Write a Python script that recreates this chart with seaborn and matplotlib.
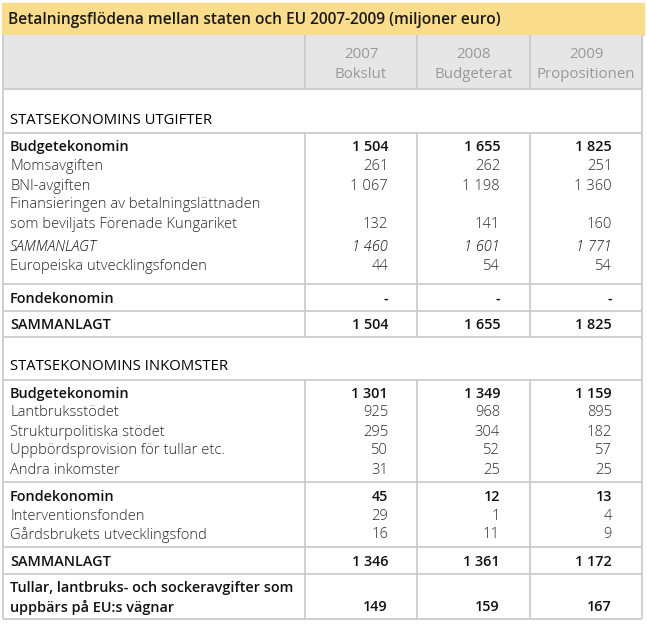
import matplotlib.pyplot as plt
import seaborn as sns
from matplotlib.patches import Rectangle

title = "Betalningsflödena mellan staten och EU 2007-2009 (miljoner euro)"
years = ["2007", "2008", "2009"]
year_notes = ["Bokslut", "Budgeterat", "Propositionen"]

labels = [
    "STATSEKONOMINS UTGIFTER",
    "Budgetekonomin",
    "Momsavgiften",
    "BNI-avgiften",
    "Finansieringen av betalningslättnaden",
    "som beviljats Förenade Kungariket",
    "SAMMANLAGT",
    "Europeiska utvecklingsfonden",
    "Fondekonomin",
    "SAMMANLAGT",
    "STATSEKONOMINS INKOMSTER",
    "Budgetekonomin",
    "Lantbruksstödet",
    "Strukturpolitiska stödet",
    "Uppbördsprovision för tullar etc.",
    "Andra inkomster",
    "Fondekonomin",
    "Interventionsfonden",
    "Gårdsbrukets utvecklingsfond",
    "SAMMANLAGT",
    "Tullar, lantbruks- och sockeravgifter som",
    "uppbärs på EU:s vägnar",
]
v2007 = [None, 1504, 261, 1067, None, 132, 1460, 44, "-", 1504,
         None, 1301, 925, 295, 50, 31, 45, 29, 16, 1346, None, 149]
v2008 = [None, 1655, 262, 1198, None, 141, 1601, 54, "-", 1655,
         None, 1349, 968, 304, 52, 25, 12, 1, 11, 1361, None, 159]
v2009 = [None, 1825, 251, 1360, None, 160, 1771, 54, "-", 1825,
         None, 1159, 895, 182, 57, 25, 13, 4, 9, 1172, None, 167]

# row styles and layout (pixels from top)
kinds = ["section", "bold", "light", "light", "light", "light", "italic", "light",
         "bold", "bold", "section", "bold", "light", "light", "light", "light",
         "bold", "light", "light", "bold", "bold", "bold"]
row_y = [119, 146, 165, 185, 204, 223, 246, 266, 298, 324, 366, 393, 412,
         431, 450, 469, 496, 515, 534, 561, 587, 606]


def fmt(v):
    if v is None:
        return ""
    if isinstance(v, str):
        return v
    return f"{v:,}".replace(",", " ")


sns.set_theme(style="white")
plt.rcParams["font.family"] = ["Open Sans", "DejaVu Sans"]

fig = plt.figure(figsize=(6.47, 6.24), dpi=100)
ax = fig.add_axes([0, 0, 1, 1])
ax.set_xlim(0, 647)
ax.set_ylim(624, 0)
ax.axis("off")

line_c = "#c8c8c8"
left, right = 3, 642
col_edges = [305, 417, 530]
col_right = [388, 500, 612]

ax.add_patch(Rectangle((2, 3), 642, 32, color="#f9dc8c", zorder=0))
ax.add_patch(Rectangle((left, 35), right - left, 54, color="#e6e6e6", zorder=0))
ax.text(8, 20, title, fontsize=11.2, fontweight="semibold", color="#1a1a1a",
        va="center", ha="left")

centers = [(col_edges[0] + col_edges[1]) / 2, (col_edges[1] + col_edges[2]) / 2,
           (col_edges[2] + right) / 2]
for cx, yr, note in zip(centers, years, year_notes):
    ax.text(cx, 54, yr, fontsize=10.8, color="#999999", ha="center", va="center")
    ax.text(cx, 74, note, fontsize=10.8, color="#999999", ha="center", va="center")

# grid lines
ax.hlines([89, 133, 284, 311, 337, 380, 482, 547, 574, 619], left, right,
          color=line_c, lw=1.2)
ax.vlines([left, right], 35, 619, color=line_c, lw=1.2)
for y0, y1 in [(35, 89), (133, 337), (380, 619)]:
    ax.vlines(col_edges, y0, y1, color=line_c, lw=1.2)

styles = {
    "section": dict(fontweight="medium", color="#000000", style="normal", fontsize=10.7),
    "bold": dict(fontweight="semibold", color="#111111", style="normal", fontsize=10.4),
    "light": dict(fontweight="light", color="#2a2a2a", style="normal", fontsize=10.6),
    "italic": dict(fontweight="light", color="#111111", style="italic", fontsize=10.5),
}

for lab, kind, y, a, b, c in zip(labels, kinds, row_y, v2007, v2008, v2009):
    st = styles[kind]
    ax.text(10, y + 1, lab, ha="left", va="center", **st)
    for xr, v in zip(col_right, [a, b, c]):
        ax.text(xr, y + 1, fmt(v), ha="right", va="center", **st)

fig.savefig("out.png", dpi=100)
